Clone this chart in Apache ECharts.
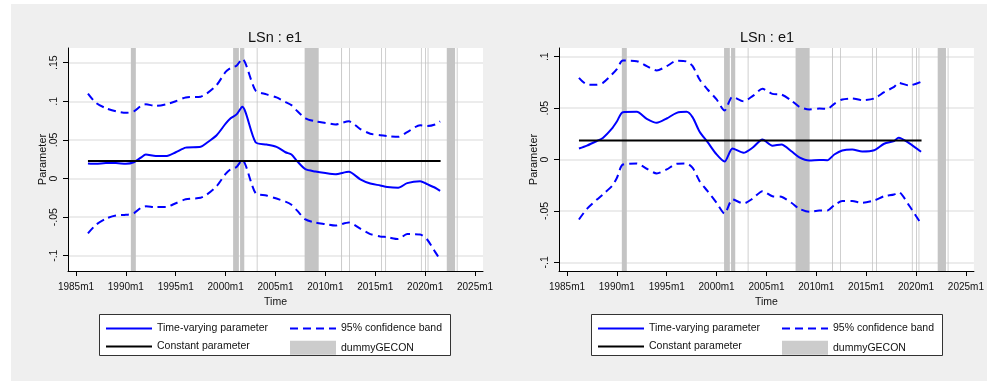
<!DOCTYPE html>
<html>
<head>
<meta charset="utf-8">
<script src="https://cdn.jsdelivr.net/npm/echarts@6/dist/echarts.min.js"></script>
<style>
html,body{margin:0;padding:0;background:#fff;}
#bg{position:absolute;left:11px;top:4px;width:976px;height:377px;background:#efefef;}
#chart{position:absolute;left:0;top:0;width:987px;height:381px;}
</style>
</head>
<body>
<div id="bg"></div>
<div id="chart"></div>
<script>
// ---------- DATA ----------
const chartTitle = 'LSn : e1';
const xTickYears = [1985, 1990, 1995, 2000, 2005, 2010, 2015, 2020, 2025];
const leftYTicks = [-0.1, -0.05, 0, 0.05, 0.1, 0.15];
const rightYTicks = [-0.1, -0.05, 0, 0.05, 0.1];

// shaded periods of dummyGECON (decimal years: start, end)
const gecon = [
  [1990.50, 1991.00], [2000.75, 2001.33], [2001.45, 2001.87], [2003.12, 2003.20],
  [2007.92, 2009.33], [2011.58, 2011.67], [2012.38, 2012.46], [2015.58, 2015.66],
  [2016.00, 2016.08], [2019.58, 2019.66], [2020.00, 2020.08], [2020.25, 2020.33],
  [2022.17, 2023.00], [2023.17, 2023.25]
];

// left panel
const leftYears = [1986.2, 1987.0, 1988.0, 1989.0, 1990.0, 1990.8, 1991.5, 1992.0, 1993.0, 1994.0,
  1995.0, 1996.0, 1997.5, 1998.1, 1999.1, 2000.0, 2000.5, 2001.1, 2001.66, 2003.0,
  2004.1, 2005.1, 2006.0, 2006.6, 2007.2, 2008.0, 2009.0, 2010.0, 2011.0, 2012.35,
  2013.5, 2014.5, 2015.5, 2016.2, 2017.3, 2018.2, 2019.5, 2020.2, 2021.0, 2021.5];
const leftTvp = [0.0195, 0.019, 0.020, 0.020, 0.019, 0.021, 0.027, 0.031, 0.029, 0.029,
  0.034, 0.040, 0.041, 0.046, 0.056, 0.071, 0.078, 0.083, 0.093, 0.047,
  0.044, 0.041, 0.034, 0.031, 0.022, 0.012, 0.009, 0.007, 0.0056, 0.0086,
  -0.001, -0.0065, -0.009, -0.011, -0.012, -0.006, -0.0035, -0.0074, -0.012, -0.016];
const leftUpper = [0.110, 0.098, 0.091, 0.087, 0.085, 0.087, 0.094, 0.096, 0.094, 0.096,
  0.100, 0.105, 0.106, 0.110, 0.121, 0.138, 0.143, 0.146, 0.155, 0.114,
  0.109, 0.105, 0.099, 0.095, 0.087, 0.078, 0.074, 0.072, 0.070, 0.074,
  0.064, 0.058, 0.056, 0.055, 0.054, 0.060, 0.069, 0.068, 0.070, 0.074];
const leftLower = [-0.071, -0.060, -0.052, -0.048, -0.047, -0.045, -0.038, -0.036, -0.037, -0.037,
  -0.032, -0.027, -0.025, -0.021, -0.010, 0.006, 0.012, 0.015, 0.024, -0.019,
  -0.022, -0.026, -0.030, -0.034, -0.042, -0.053, -0.057, -0.059, -0.061, -0.057,
  -0.065, -0.072, -0.075, -0.076, -0.0785, -0.072, -0.0725, -0.079, -0.095, -0.105];
const leftConst = 0.0228;
const leftConstSpan = [1986.2, 2021.55];

// right panel
const rightYears = [1986.2, 1987.0, 1988.0, 1988.6, 1989.5, 1990.0, 1990.6, 1992.0, 1993.0, 1994.0,
  1995.0, 1996.0, 1997.0, 1997.6, 1998.3, 1999.1, 2000.0, 2000.8, 2001.6, 2002.7,
  2003.6, 2004.6, 2005.6, 2006.5, 2007.5, 2008.3, 2009.3, 2010.3, 2011.1, 2011.8,
  2012.6, 2013.6, 2014.6, 2015.8, 2016.8, 2017.8, 2018.25, 2019.3, 2020.5];
const rightTvp = [0.0107, 0.0135, 0.018, 0.021, 0.030, 0.037, 0.046, 0.0464, 0.0396, 0.0357,
  0.0399, 0.0454, 0.0464, 0.041, 0.027, 0.0169, 0.0049, -0.002, 0.0107, 0.0065,
  0.0114, 0.0195, 0.0135, 0.0146, 0.008, 0.002, -0.001, -0.0005, -0.0007, 0.0049,
  0.0088, 0.0097, 0.0078, 0.009, 0.0153, 0.018, 0.0211, 0.016, 0.0075];
const rightUpper = [0.0795, 0.073, 0.0727, 0.0746, 0.0827, 0.088, 0.0963, 0.0957, 0.0908, 0.0866,
  0.0908, 0.096, 0.0954, 0.0908, 0.0778, 0.0681, 0.0584, 0.0477, 0.061, 0.0567,
  0.0616, 0.0688, 0.0639, 0.0632, 0.0574, 0.0513, 0.0487, 0.0496, 0.0493, 0.0542,
  0.0584, 0.0594, 0.0577, 0.0594, 0.0655, 0.0707, 0.0746, 0.072, 0.0756];
const rightLower = [-0.0584, -0.048, -0.039, -0.034, -0.026, -0.018, -0.0049, -0.0039, -0.009, -0.0136,
  -0.0097, -0.0042, -0.0039, -0.0081, -0.0211, -0.0308, -0.0421, -0.0525, -0.0389, -0.0428,
  -0.0382, -0.0308, -0.0357, -0.0363, -0.0421, -0.048, -0.0509, -0.0496, -0.0496, -0.0444,
  -0.0405, -0.0405, -0.0421, -0.0399, -0.0357, -0.034, -0.0318, -0.0448, -0.0626];
const rightConst = 0.0185;
const rightConstSpan = [1986.2, 2020.55];

// ---------- CHART ----------
const FONT = "'Liberation Sans Narrow', 'Arial Narrow', 'Liberation Sans', Arial, sans-serif";
const BLUE = '#0000ff';
const BAND = '#c4c4c4';
const zip = (xs, ys) => xs.map((x, i) => [x, ys[i]]);
function stataFmt(v) {
  const r = Math.round(v * 100) / 100;
  if (r === 0) return '0';
  const s = String(Math.abs(r)).replace(/^0/, '');
  return (r < 0 ? '-' : '') + s;
}

const panels = [
  {left: 68, width: 415, yMin: -0.1198, yMax: 0.169, yTicks: leftYTicks, years: leftYears, tvp: leftTvp, up: leftUpper, lo: leftLower, c: leftConst, span: leftConstSpan, titleX: 275, legX: 105},
  {left: 559, width: 416, yMin: -0.1085, yMax: 0.1085, yTicks: rightYTicks, years: rightYears, tvp: rightTvp, up: rightUpper, lo: rightLower, c: rightConst, span: rightConstSpan, titleX: 767, legX: 597}
];

const legendText = {fontFamily: FONT, fontSize: 10.5, color: '#111'};

const option = {
  animation: false,
  backgroundColor: 'transparent',
  textStyle: {fontFamily: FONT},
  title: panels.map(p => ({
    text: chartTitle, left: p.titleX, top: 30, textAlign: 'center', padding: 0,
    textStyle: {fontFamily: FONT, fontSize: 14.5, fontWeight: 'normal', color: '#111'}
  })),
  grid: panels.map(p => ({
    left: p.left, top: 48, width: p.width, height: 223, show: true,
    backgroundColor: '#ffffff', borderWidth: 0
  })),
  xAxis: panels.map((p, i) => ({
    type: 'value', gridIndex: i, min: 1984.2, max: 2025.8,
    name: 'Time', nameLocation: 'middle', nameGap: 23,
    nameTextStyle: {fontFamily: FONT, fontSize: 10.5, color: '#111', verticalAlign: 'top'},
    axisLine: {onZero: false, lineStyle: {color: '#000', width: 1}},
    axisTick: {show: true, length: 5, customValues: xTickYears, lineStyle: {color: '#000'}},
    axisLabel: {customValues: xTickYears, formatter: v => v + 'm1', margin: 11,
      fontFamily: FONT, fontSize: 10, color: '#111'},
    splitLine: {show: false}
  })),
  yAxis: panels.map((p, i) => ({
    type: 'value', gridIndex: i, min: p.yMin, max: p.yMax,
    name: 'Parameter', nameLocation: 'middle', nameGap: 20, nameRotate: 90,
    nameTextStyle: {fontFamily: FONT, fontSize: 11, color: '#111'},
    axisLine: {show: true, onZero: false, lineStyle: {color: '#000', width: 1}},
    axisTick: {show: true, length: 5, customValues: p.yTicks, lineStyle: {color: '#000'}},
    axisLabel: {customValues: p.yTicks, formatter: stataFmt, rotate: 90, margin: 8,
      fontFamily: FONT, fontSize: 10.5, color: '#111'},
    splitLine: {show: true, lineStyle: {color: '#e6e6e6', width: 1.5}}
  })),
  legend: [].concat(...panels.map(p => [
    {left: p.legX, top: 323, orient: 'vertical', padding: 0, itemGap: 6.6, itemWidth: 46, itemHeight: 14,
      textStyle: legendText, itemStyle: {opacity: 0},
      data: ['Time-varying parameter', 'Constant parameter']},
    {left: p.legX + 184, top: 323, orient: 'vertical', padding: 0, itemGap: 6.6, itemWidth: 46, itemHeight: 14,
      textStyle: legendText, itemStyle: {opacity: 0},
      data: ['95% confidence band', {name: 'dummyGECON', icon: 'rect', itemStyle: {color: '#cccccc', opacity: 1}}]}
  ])),
  graphic: panels.map(p => ({
    type: 'rect', z: -1, silent: true,
    shape: {x: p.legX - 5.5, y: 314.5, width: 351, height: 41},
    style: {fill: '#fff', stroke: '#333', lineWidth: 1}
  })),
  series: [].concat(...panels.map((p, i) => [
    {
      name: 'dummyGECON', type: 'custom', xAxisIndex: i, yAxisIndex: i, z: 1,
      itemStyle: {color: BAND},
      data: gecon.map(b => [b[0], b[1], 0]),
      encode: {x: [0, 1], y: 2},
      renderItem: (params, api) => {
        const s = api.coord([api.value(0), 0])[0];
        const e = api.coord([api.value(1), 0])[0];
        const cs = params.coordSys;
        return {type: 'rect', shape: {x: s, y: cs.y, width: e - s, height: cs.height},
          style: {fill: BAND}};
      }
    },
    {
      name: '95% confidence band', type: 'line', xAxisIndex: i, yAxisIndex: i, z: 3,
      data: zip(p.years, p.up), symbol: 'none', smooth: 0.25, color: BLUE,
      lineStyle: {color: BLUE, width: 2, type: [8, 5]}
    },
    {
      name: '95% confidence band', type: 'line', xAxisIndex: i, yAxisIndex: i, z: 3,
      data: zip(p.years, p.lo), symbol: 'none', smooth: 0.25, color: BLUE,
      lineStyle: {color: BLUE, width: 2, type: [8, 5]}
    },
    {
      name: 'Time-varying parameter', type: 'line', xAxisIndex: i, yAxisIndex: i, z: 4,
      data: zip(p.years, p.tvp), symbol: 'none', smooth: 0.25, color: BLUE,
      lineStyle: {color: BLUE, width: 2}
    },
    {
      name: 'Constant parameter', type: 'line', xAxisIndex: i, yAxisIndex: i, z: 5,
      data: p.span.map(x => [x, p.c]), symbol: 'none', color: '#000',
      lineStyle: {color: '#000', width: 2}
    }
  ]))
};

const chart = echarts.init(document.getElementById('chart'), null, {renderer: 'canvas'});
chart.setOption(option);
</script>
</body>
</html>
